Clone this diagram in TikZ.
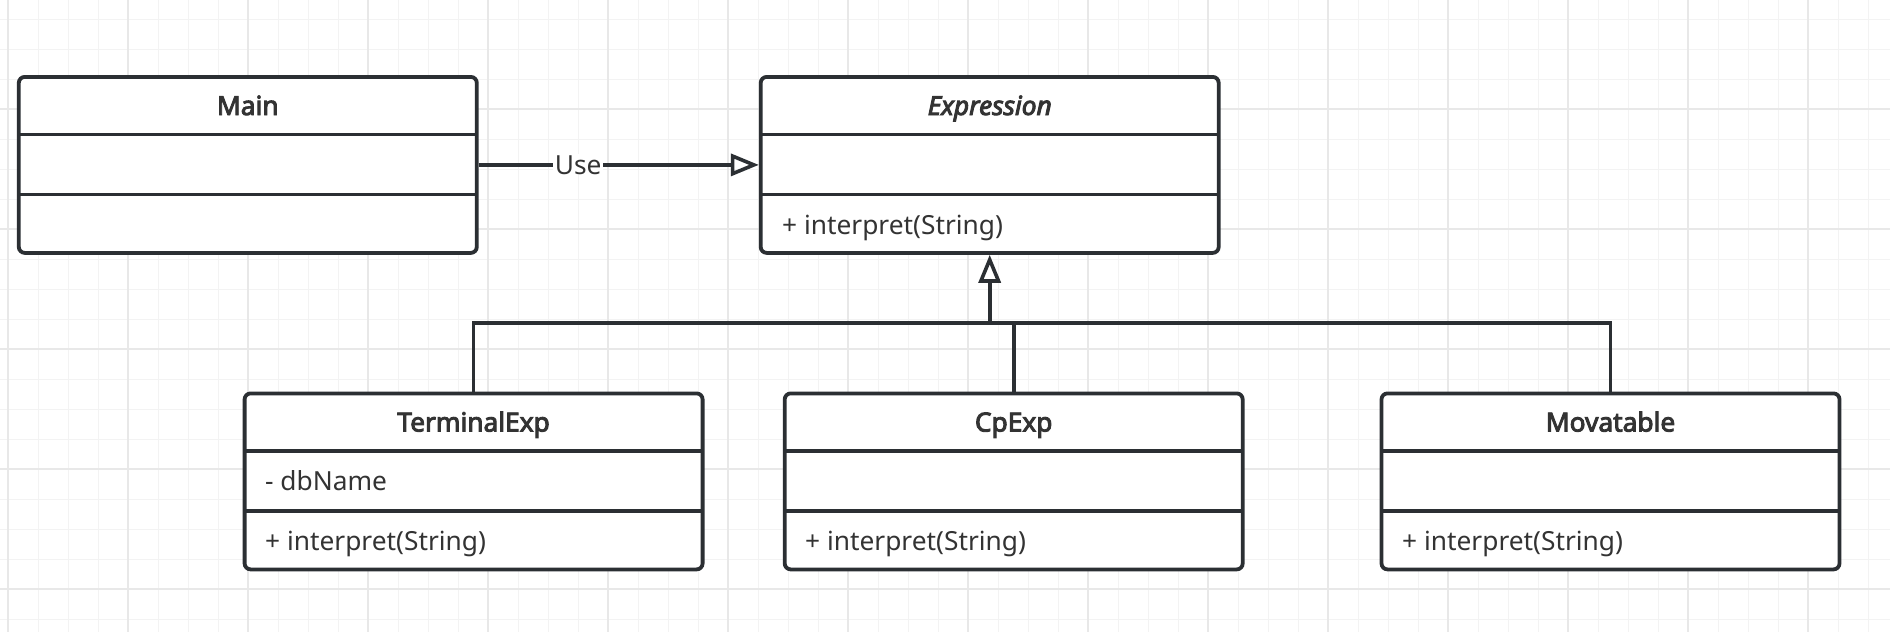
\documentclass[tikz,border=0pt]{standalone}
\usepackage{fontspec}
\setmainfont{Noto Sans}[BoldFont={Noto Sans}, BoldFeatures={FakeBold=3.5}, BoldItalicFont={Noto Sans Italic}, BoldItalicFeatures={FakeBold=3.5}]
\usetikzlibrary{arrows.meta}
\definecolor{ln}{HTML}{2B2F33}
\definecolor{tx}{HTML}{333333}
\definecolor{gmin}{HTML}{F3F3F3}
\definecolor{gmaj}{HTML}{E8E8E8}
\tikzset{
  umlbox/.style={draw=ln, line width=3.8pt, rounded corners=6pt, fill=white,
    minimum width=458pt, minimum height=176pt, inner sep=0pt, anchor=north},
  divider/.style={draw=ln, line width=3.8pt},
  titletext/.style={text=tx, font=\fontsize{26.3}{30}\selectfont\bfseries, inner sep=0pt, anchor=base},
  membertext/.style={text=tx, font=\fontsize{26.3}{30}\selectfont, inner sep=0pt, anchor=base west},
  conn/.style={draw=ln, line width=3.6pt},
  opentip/.style={-{Triangle[open, length=28pt, width=22pt]}},
  gridminor/.style={draw=gmin, line width=1.6pt},
  gridmajor/.style={draw=gmaj, line width=2pt}
}
\newcommand\umlclassbox[4]{%
  \node[umlbox] (#1) at (#2,#3) {};
  \draw[divider] ({#2-229},{#3+59.5}) -- ({#2+229},{#3+59.5});
  \draw[divider] ({#2-229},{#3+119.5}) -- ({#2+229},{#3+119.5});
  \node[titletext] (#1-t) at (#2,{#3+40}) {#4};
}
\begin{document}
\begin{tikzpicture}[x=1pt,y=-1pt]
\fill[white] (0,0) rectangle (1890,632);
\useasboundingbox (0,0) rectangle (1890,632);
% grid
\foreach \x in {8.3,38.3,...,1890} \draw[gridminor] (\x,0) -- (\x,632);
\foreach \y in {19.3,49.3,...,632} \draw[gridminor] (0,\y) -- (1890,\y);
\foreach \x in {8.3,128.3,...,1890} \draw[gridmajor] (\x,0) -- (\x,632);
\foreach \y in {-10.7,109.3,...,632} \draw[gridmajor] (0,\y) -- (1890,\y);
% classes
\umlclassbox{main}{247.8}{75}{Main}
\umlclassbox{expr}{989.7}{75}{\itshape Expression}
\node[membertext] (expr-m) at (782,234) {+ interpret(String)};
\umlclassbox{term}{473.6}{391.5}{TerminalExp}
\node[membertext] (term-a) at (265,490) {- dbName};
\node[membertext] (term-m) at (265,550.5) {+ interpret(String)};
\umlclassbox{cp}{1013.7}{391.5}{CpExp}
\node[membertext] (cp-m) at (805,550.5) {+ interpret(String)};
\umlclassbox{mov}{1610.5}{391.5}{Movatable}
\node[membertext] (mov-m) at (1402,550.5) {+ interpret(String)};
% connectors
\draw[conn, opentip] (main.east) -- node[pos=0.355, fill=white, inner xsep=2pt, inner ysep=1pt, text=tx, font=\fontsize{26.3}{30}\selectfont] (uselabel) {Use} (expr.west);
\coordinate (bus) at (0,322.7);
\draw[conn] (term.north) -- (term.north |- bus) -- (mov.north |- bus) -- (mov.north);
\draw[conn] (cp.north) -- (cp.north |- bus);
\draw[conn, opentip] (expr.south |- bus) -- (expr.south);
\end{tikzpicture}
\end{document}
